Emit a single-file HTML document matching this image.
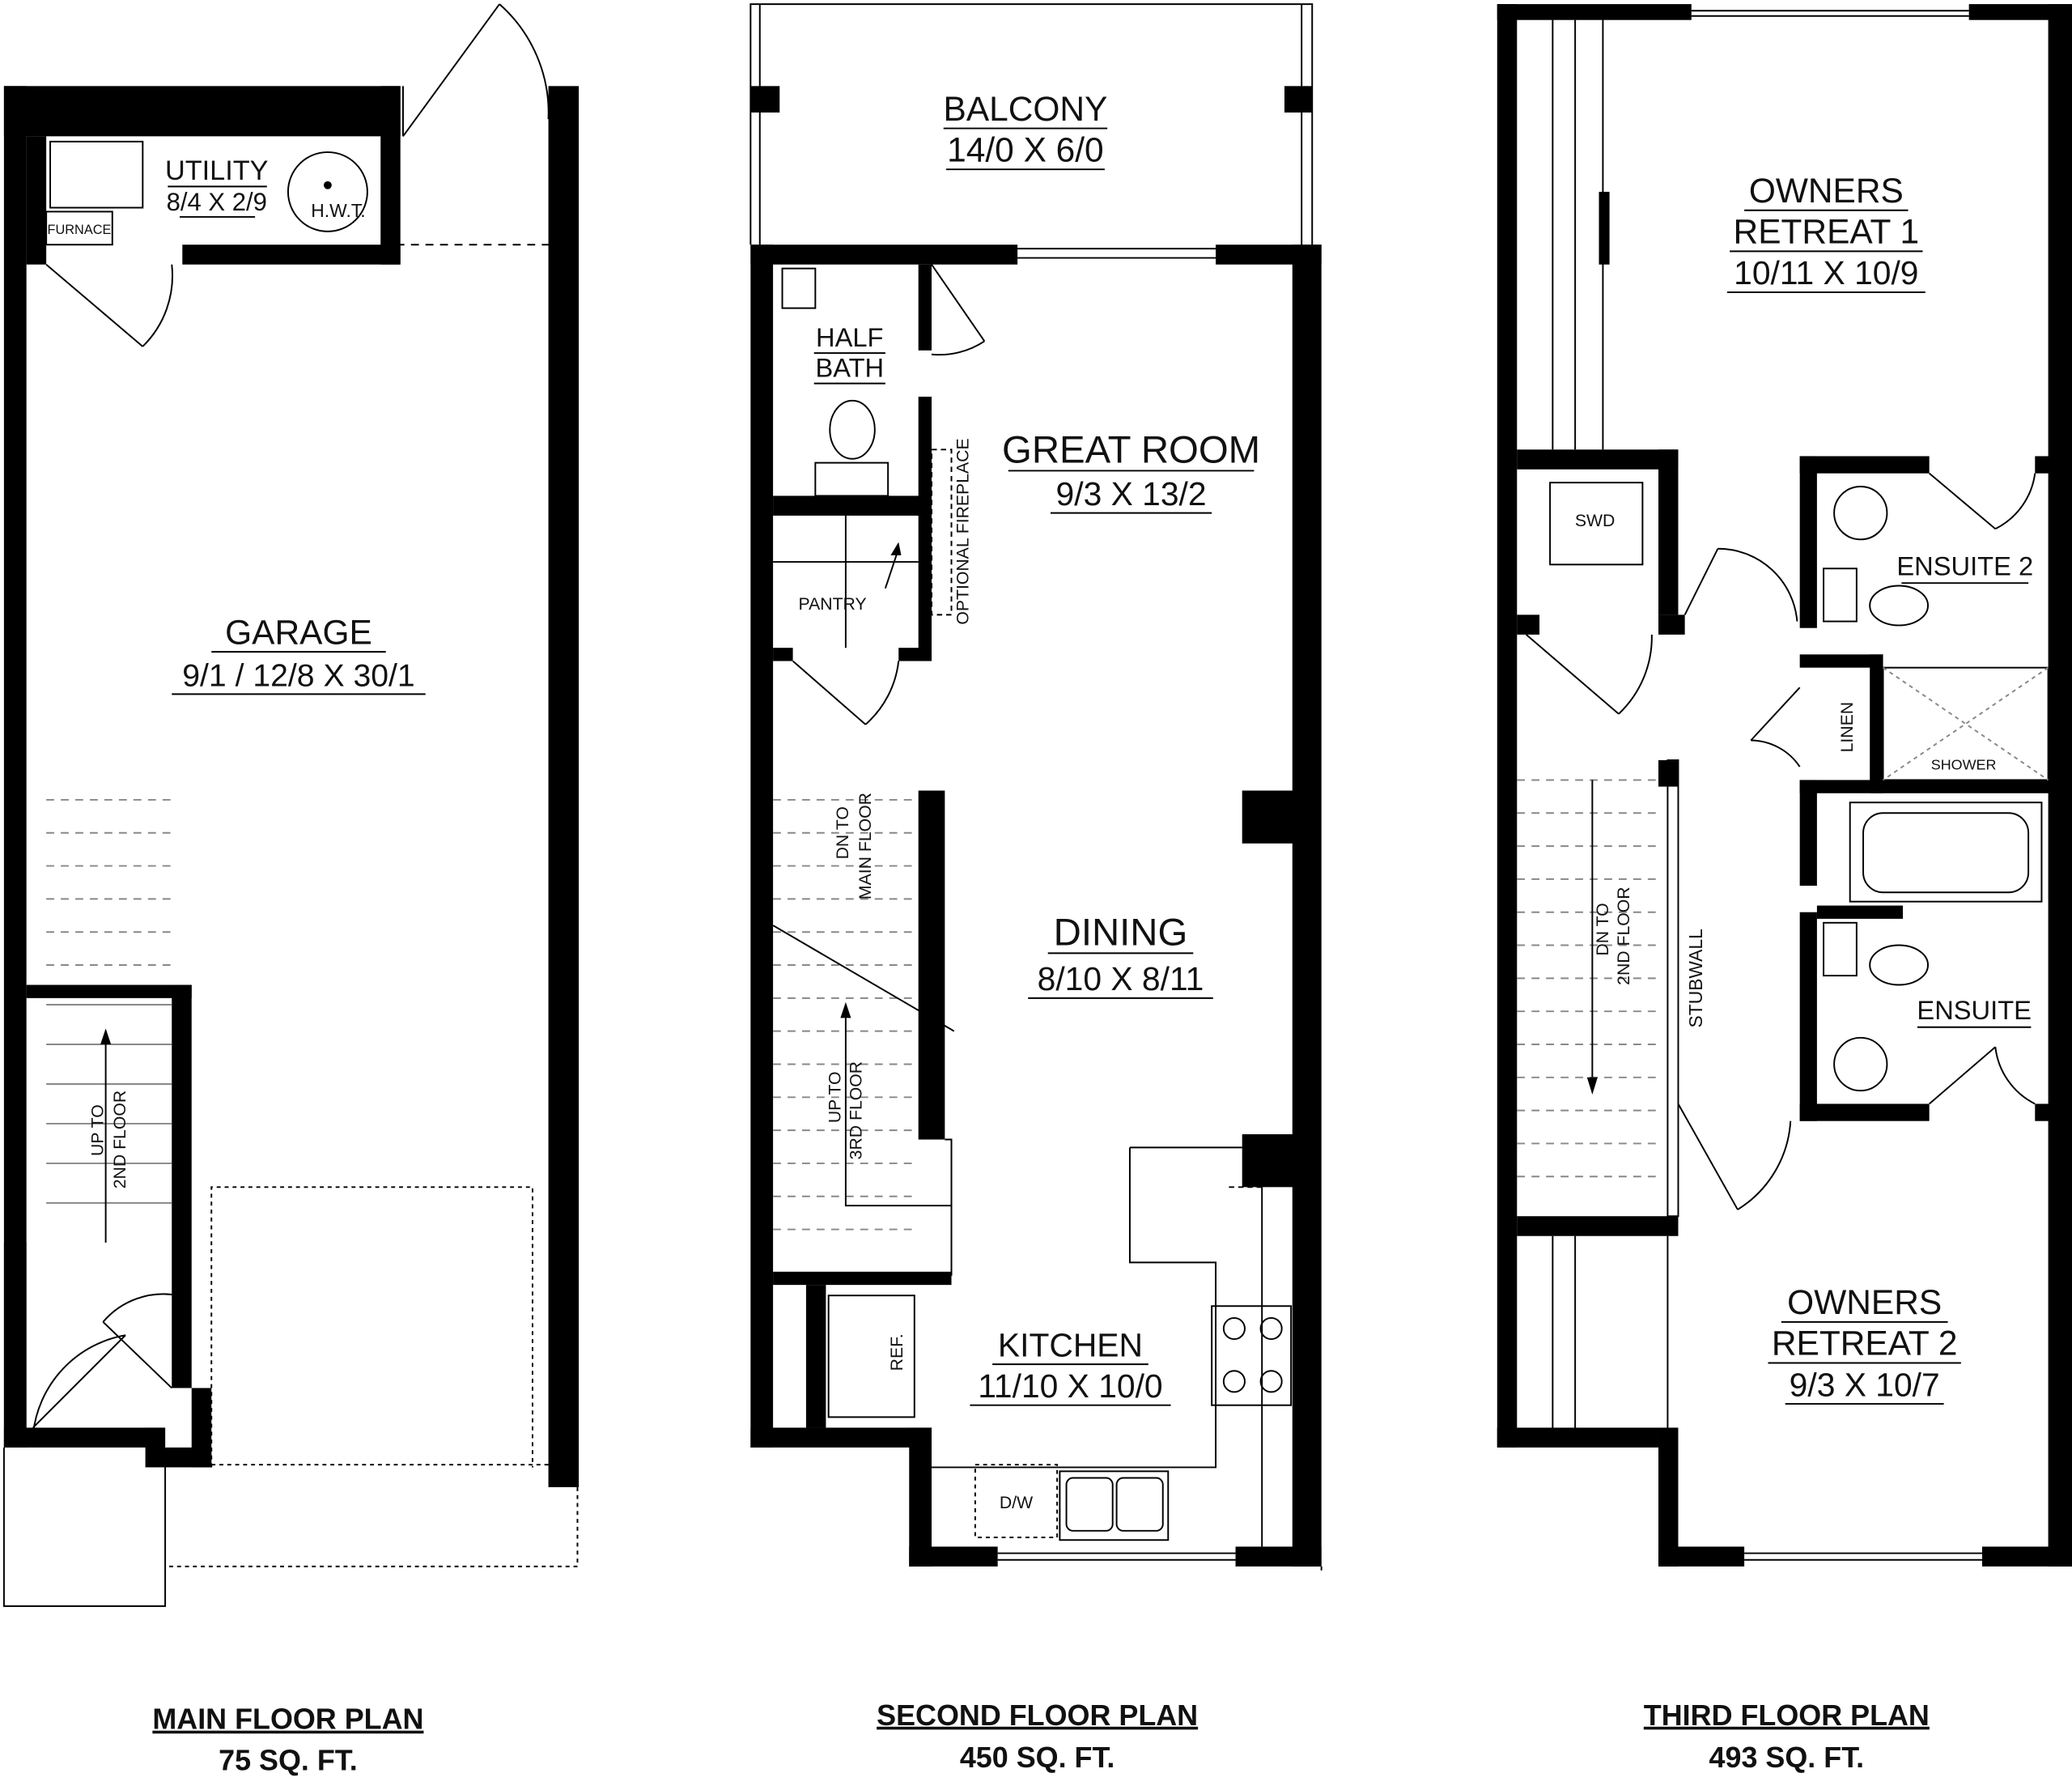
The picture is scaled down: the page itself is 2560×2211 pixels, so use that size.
<!DOCTYPE html>
<html><head><meta charset="utf-8"><style>
html,body{margin:0;padding:0;background:#fff;}
svg{display:block;}
text{font-family:"Liberation Sans",sans-serif;fill:#111;}
</style></head><body>
<svg width="2560" height="2211" viewBox="0 0 1568 1354" xmlns="http://www.w3.org/2000/svg">
<rect width="1568" height="1354" fill="#fff"/>
<g fill="#000">
<!-- MAIN FLOOR -->
<rect x="3" y="65" width="17" height="1030"/>
<rect x="3" y="65" width="300" height="38"/>
<rect x="20" y="103" width="15" height="97"/>
<rect x="288" y="65" width="15" height="135"/>
<rect x="138" y="185" width="165" height="15"/>
<rect x="415" y="65" width="23" height="1060"/>
<rect x="130" y="745" width="15" height="305"/>
<rect x="20" y="745" width="125" height="10"/>
<rect x="3" y="940" width="17" height="155"/>
<rect x="3" y="1080" width="122" height="15"/>
<rect x="110" y="1080" width="15" height="30"/>
<rect x="125" y="1095" width="35" height="15"/>
<rect x="145" y="1050" width="15" height="60"/>
<!-- SECOND FLOOR -->
<rect x="568" y="185" width="17" height="910"/>
<rect x="568" y="185" width="202" height="15"/>
<rect x="920" y="185" width="80" height="15"/>
<rect x="978" y="185" width="22" height="1000"/>
<rect x="940" y="598" width="40" height="40"/>
<rect x="940" y="858" width="40" height="40"/>
<rect x="568" y="1080" width="137" height="15"/>
<rect x="688" y="1080" width="17" height="105"/>
<rect x="688" y="1170" width="67" height="15"/>
<rect x="935" y="1170" width="65" height="15"/>
<rect x="695" y="200" width="10" height="65"/>
<rect x="695" y="300" width="10" height="200"/>
<rect x="585" y="375" width="120" height="15"/>
<rect x="585" y="490" width="15" height="10"/>
<rect x="680" y="490" width="25" height="10"/>
<rect x="695" y="598" width="20" height="264"/>
<rect x="585" y="962" width="135" height="10"/>
<rect x="610" y="972" width="15" height="108"/>
<rect x="568" y="65" width="22" height="20"/>
<rect x="972" y="65" width="21" height="20"/>
<!-- THIRD FLOOR -->
<rect x="1133" y="3" width="15" height="1092"/>
<rect x="1133" y="3" width="147" height="12"/>
<rect x="1490" y="3" width="78" height="12"/>
<rect x="1550" y="3" width="18" height="1182"/>
<rect x="1133" y="1080" width="122" height="15"/>
<rect x="1255" y="1080" width="15" height="105"/>
<rect x="1255" y="1170" width="65" height="15"/>
<rect x="1500" y="1170" width="68" height="15"/>
<rect x="1148" y="340" width="122" height="15"/>
<rect x="1255" y="340" width="15" height="125"/>
<rect x="1255" y="465" width="20" height="15"/>
<rect x="1148" y="465" width="17" height="15"/>
<rect x="1362" y="345" width="13" height="130"/>
<rect x="1362" y="345" width="98" height="13"/>
<rect x="1540" y="345" width="28" height="13"/>
<rect x="1362" y="495" width="63" height="10"/>
<rect x="1415" y="495" width="10" height="105"/>
<rect x="1362" y="590" width="206" height="10"/>
<rect x="1362" y="590" width="13" height="80"/>
<rect x="1362" y="690" width="13" height="158"/>
<rect x="1375" y="685" width="65" height="10"/>
<rect x="1362" y="835" width="98" height="13"/>
<rect x="1540" y="835" width="28" height="13"/>
<rect x="1148" y="920" width="122" height="15"/>
<rect x="1255" y="575" width="15" height="20"/>
<rect x="1210" y="145" width="8" height="55"/>
</g>
<g fill="none" stroke="#000" stroke-width="1.2">
<!-- main floor details -->
<rect x="38" y="107" width="70" height="50"/>
<rect x="35" y="160" width="50" height="25"/>
<circle cx="248" cy="145" r="30"/>
<path d="M35 200 L35 200 L108 262" /><path d="M108 262 A75 75 0 0 0 130 200"/>
<path d="M305 103 L378 3"/><path d="M378 3 A110 110 0 0 1 415 90"/>
<path d="M305 65 L305 103 M420 103 L420 1125"/>
<path d="M300 185 L415 185" stroke-dasharray="6 5"/>
<path d="M160 1110 L160 898 L403 898 L403 1110" stroke-dasharray="3 3"/>
<path d="M160 1108 L437 1108 M437 1125 L437 1185 L125 1185" stroke-dasharray="3 3"/>
<path d="M3 1095 L3 1215 L125 1215 L125 1095"/>
<path d="M25 1080 L95 1010 M95 1010 A85 85 0 0 0 25 1085"/>
<path d="M130 1050 L78 1000 M78 1000 A60 60 0 0 1 135 980"/>
<g stroke-dasharray="6 5" stroke="#888">
<path d="M35 605 L130 605 M35 630 L130 630 M35 655 L130 655 M35 680 L130 680 M35 705 L130 705 M35 730 L130 730"/>
</g>
<g stroke="#888">
<path d="M35 760 L130 760 M35 790 L130 790 M35 820 L130 820 M35 850 L130 850 M35 880 L130 880 M35 910 L130 910"/>
</g>
<path d="M80 790 L80 940"/>
<!-- second floor -->
<path d="M568 185 L568 3 L993 3 L993 185 M575 3 L575 185 M985 3 L985 185"/>
<path d="M770 188 L920 188 M770 195 L920 195"/>
<path d="M705 200 L745 258 M745 258 A62 62 0 0 1 705 268"/>
<rect x="592" y="203" width="25" height="30"/>
<ellipse cx="645" cy="325" rx="17" ry="22"/>
<rect x="617" y="350" width="55" height="25"/>
<rect x="705" y="340" width="15" height="125" stroke-dasharray="4 3"/>
<path d="M585 425 L695 425 M640 390 L640 490"/>
<path d="M670 445 L680 415"/>
<path d="M600 500 L655 548 M655 548 A75 75 0 0 0 680 500"/>
<g stroke="#888"><path d="M585 605 L695 605 M585 630 L695 630 M585 655 L695 655 M585 680 L695 680 M585 705 L695 705 M585 730 L695 730 M585 755 L695 755 M585 780 L695 780 M585 805 L695 805 M585 830 L695 830 M585 855 L695 855 M585 880 L695 880 M585 905 L695 905 M585 930 L695 930" stroke-dasharray="6 5"/></g>
<path d="M585 700 L722 780"/>
<path d="M640 770 L640 912 L720 912 M715 862 L720 862 L720 965"/>
<path d="M855 868 L940 868 M855 868 L855 955 L920 955 L920 1110 L705 1110 M955 898 L955 1170" />
<path d="M930 898 L955 898" stroke-dasharray="4 3"/>
<rect x="627" y="980" width="65" height="92"/>
<rect x="917" y="988" width="60" height="75"/>
<circle cx="934" cy="1005" r="8"/><circle cx="962" cy="1005" r="8"/><circle cx="934" cy="1045" r="8"/><circle cx="962" cy="1045" r="8"/>
<rect x="738" y="1108" width="62" height="55" stroke-dasharray="3 3"/>
<rect x="802" y="1113" width="82" height="52"/>
<rect x="807" y="1118" width="35" height="40" rx="5"/><rect x="845" y="1118" width="35" height="40" rx="5"/>
<path d="M755 1175 L935 1175 M755 1180 L935 1180 M1000 1185 L1000 1188"/>
<!-- third floor -->
<path d="M1280 8 L1490 8 M1280 12 L1490 12"/>
<path d="M1175 15 L1175 340 M1192 15 L1192 340 M1213 15 L1213 340"/>
<rect x="1173" y="365" width="70" height="62"/>
<path d="M1155 480 L1225 540 M1225 540 A80 80 0 0 0 1250 480"/>
<path d="M1275 465 L1300 415 M1300 415 A60 60 0 0 1 1360 470"/>
<path d="M1460 358 L1510 400 M1510 400 A55 55 0 0 0 1540 358"/>
<circle cx="1408" cy="388" r="20"/><rect x="1380" y="430" width="25" height="40"/><ellipse cx="1437" cy="458" rx="22" ry="15"/>
<path d="M1362 520 L1325 560 M1325 560 A45 45 0 0 1 1362 580"/>
<rect x="1425" y="505" width="125" height="85"/>
<path d="M1425 505 L1550 590 M1550 505 L1425 590" stroke-dasharray="3 3" stroke="#888"/>
<rect x="1400" y="607" width="145" height="75"/><rect x="1410" y="615" width="125" height="60" rx="15"/>
<rect x="1380" y="698" width="25" height="40"/><ellipse cx="1437" cy="730" rx="22" ry="15"/><circle cx="1408" cy="805" r="20"/>
<path d="M1460 835 L1510 792 M1510 792 A55 55 0 0 0 1540 835"/>
<rect x="1262" y="575" width="8" height="345"/>
<g stroke="#888" stroke-dasharray="6 5"><path d="M1148 590 L1255 590 M1148 615 L1255 615 M1148 640 L1255 640 M1148 665 L1255 665 M1148 690 L1255 690 M1148 715 L1255 715 M1148 740 L1255 740 M1148 765 L1255 765 M1148 790 L1255 790 M1148 815 L1255 815 M1148 840 L1255 840 M1148 865 L1255 865 M1148 890 L1255 890"/></g>
<path d="M1205 590 L1205 815"/>
<path d="M1270 835 L1315 915 M1315 915 A85 85 0 0 0 1355 848"/>
<path d="M1175 935 L1175 1080 M1192 935 L1192 1080 M1262 935 L1262 1080"/>
<path d="M1320 1175 L1500 1175 M1320 1180 L1500 1180"/>
</g>
<g fill="#000"><path d="M76 790 L84 790 L80 778Z"/><path d="M636 770 L644 770 L640 758Z"/><path d="M1201 815 L1209 815 L1205 828Z"/><path d="M674 420 L682 420 L680 410Z"/><circle cx="248" cy="140" r="3"/></g>
<g text-anchor="middle">
<text x="164" y="136" font-size="21">UTILITY</text><text x="164" y="159" font-size="19">8/4 X 2/9</text>
<text x="256" y="164" font-size="14">H.W.T.</text><text x="60" y="177" font-size="10">FURNACE</text>
<text x="226" y="487" font-size="26">GARAGE</text><text x="226" y="519" font-size="24">9/1 / 12/8 X 30/1</text>
<text transform="translate(78,855) rotate(-90)" font-size="13">UP TO</text><text transform="translate(95,862) rotate(-90)" font-size="13">2ND FLOOR</text>
<text x="776" y="91" font-size="26">BALCONY</text><text x="776" y="122" font-size="26">14/0 X 6/0</text>
<text x="643" y="262" font-size="20">HALF</text><text x="643" y="285" font-size="20">BATH</text>
<text transform="translate(733,402) rotate(-90)" font-size="13">OPTIONAL FIREPLACE</text>
<text x="630" y="461" font-size="13">PANTRY</text>
<text x="856" y="350" font-size="29">GREAT ROOM</text><text x="856" y="382" font-size="25">9/3 X 13/2</text>
<text transform="translate(642,630) rotate(-90)" font-size="13">DN TO</text><text transform="translate(659,640) rotate(-90)" font-size="13">MAIN FLOOR</text>
<text transform="translate(636,830) rotate(-90)" font-size="13">UP TO</text><text transform="translate(652,840) rotate(-90)" font-size="13">3RD FLOOR</text>
<text x="848" y="715" font-size="29">DINING</text><text x="848" y="749" font-size="25">8/10 X 8/11</text>
<text x="810" y="1026" font-size="25">KITCHEN</text><text x="810" y="1057" font-size="25">11/10 X 10/0</text>
<text transform="translate(683,1023) rotate(-90)" font-size="13">REF.</text>
<text x="769" y="1141" font-size="13">D/W</text>
<text x="1382" y="153" font-size="26">OWNERS</text><text x="1382" y="184" font-size="26">RETREAT 1</text><text x="1382" y="215" font-size="25">10/11 X 10/9</text>
<text x="1207" y="398" font-size="13">SWD</text>
<text x="1487" y="435" font-size="20">ENSUITE 2</text>
<text transform="translate(1402,550) rotate(-90)" font-size="13">LINEN</text>
<text x="1486" y="582" font-size="11">SHOWER</text>
<text transform="translate(1288,740) rotate(-90)" font-size="14">STUBWALL</text>
<text transform="translate(1217,703) rotate(-90)" font-size="13">DN TO</text><text transform="translate(1233,708) rotate(-90)" font-size="13">2ND FLOOR</text>
<text x="1494" y="771" font-size="20">ENSUITE</text>
<text x="1411" y="994" font-size="26">OWNERS</text><text x="1411" y="1025" font-size="26">RETREAT 2</text><text x="1411" y="1056" font-size="25">9/3 X 10/7</text>
<g font-weight="bold" font-size="22">
<text x="218" y="1308" text-decoration="underline">MAIN FLOOR PLAN</text><text x="218" y="1339">75 SQ. FT.</text>
<text x="785" y="1305" text-decoration="underline">SECOND FLOOR PLAN</text><text x="785" y="1337">450 SQ. FT.</text>
<text x="1352" y="1305" text-decoration="underline">THIRD FLOOR PLAN</text><text x="1352" y="1337">493 SQ. FT.</text>
</g></g>
<g stroke="#000" stroke-width="1.2">
<path d="M127 141 L202 141 M136 164 L193 164"/>
<path d="M160 493 L292 493 M130 525 L322 525"/>
<path d="M714 97 L838 97 M716 128 L836 128"/>
<path d="M616 267 L670 267 M616 290 L670 290"/>
<path d="M763 356 L949 356 M795 388 L917 388"/>
<path d="M793 721 L903 721 M778 755 L918 755"/>
<path d="M751 1032 L869 1032 M734 1063 L886 1063"/>
<path d="M1320 159 L1444 159 M1309 190 L1455 190 M1307 221 L1457 221"/>
<path d="M1348 1000 L1474 1000 M1338 1031 L1484 1031 M1351 1062 L1471 1062"/>
<path d="M1439 441 L1535 441 M1451 777 L1537 777"/>
</g>
</svg>
</body></html>
